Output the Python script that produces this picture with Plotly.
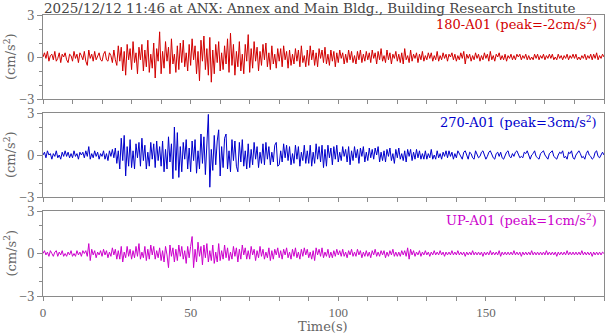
import plotly.graph_objects as go

# ---------------- data (values in 0.1 cm/s^2, sampled every 0.5 s from 0 to 190 s) ----------------
dt = 0.5
title_text = "2025/12/12 11:46 at ANX: Annex and Main Bldg., Building Research Institute"
x_title = "Time(s)"
names = ["180-A01", "270-A01", "UP-A01"]
peaks = ["-2", "3", "1"]
colors = ["#d20000", "#0000cc", "#cc00cc"]
x_ticks = [0, 50, 100, 150]
y_ticks = [-3, 0, 3]

ch180 = [
    0,3,-1,4,-3,1,2,-2,4,-3,-1,3,-4,2,0,3,-2,-4,2,1,
    -3,4,-1,2,-4,3,1,-2,4,-3,-6,5,-1,2,-3,4,-2,1,3,-2,
    -3,2,4,-2,-3,3,1,-4,5,-2,-6,8,-3,7,-10,4,-13,9,-2,6,
    -9,11,-4,3,-12,7,-2,9,-10,5,-7,12,-11,2,-8,10,-15,6,-3,18,
    -12,4,-8,11,-3,7,-12,13,-5,2,-11,8,-9,10,-4,12,-7,3,-10,9,
    -6,13,-2,8,-12,4,-17,12,-3,15,-9,6,-13,14,-18,5,-12,9,-4,11,
    -10,3,-9,8,-5,13,-11,17,-6,9,-13,4,-7,11,-10,2,-12,9,-3,16,
    -11,6,-8,11,-3,7,-10,4,-6,9,-2,10,-7,3,-9,8,-5,2,-8,6,
    -3,6,-7,8,-2,4,-8,5,-6,2,-5,6,-3,5,-7,8,-4,1,-7,5,
    -6,8,-2,5,-6,3,-7,6,-1,5,-4,7,-5,2,-6,5,-3,4,-7,3,
    -4,5,-1,3,-5,2,-4,5,-2,4,-4,1,-5,4,-2,5,-4,2,-3,4,
    -2,3,-4,5,-1,3,-5,4,-2,6,-3,1,-4,5,-2,3,-5,2,-1,4,
    -3,2,-4,3,-5,6,-2,1,-4,5,-3,2,-1,3,-4,2,-2,4,-3,1,
    -2,3,-1,3,-3,1,-2,4,-3,1,-2,3,-1,2,-3,2,0,3,-2,2,
    -3,1,-2,3,-1,4,-5,2,-1,2,-3,1,-2,3,-1,2,-3,1,-2,3,
    -1,2,-3,4,-2,1,-3,2,0,3,-2,1,-2,2,-3,1,-1,2,-2,1,
    -2,2,0,2,-2,1,-1,2,-2,1,-2,0,-2,2,-1,2,-2,1,-1,2,
    -2,1,-1,2,-1,2,-2,0,-2,2,-1,1,-2,1,-1,2,-2,1,-1,2,
    -1,2,-2,0,-2,1,-1,2,-2,1,-1,2,-2,2,-1,3,-2,1,-1,2,
    0,
]

ch270 = [
    0,2,-2,3,0,1,-3,1,-1,3,-2,0,-3,2,-1,3,-1,2,-2,1,
    -2,3,-1,1,-3,2,0,2,-2,3,-1,6,-3,1,-2,3,-1,2,-3,1,
    -1,3,-3,1,-4,3,-1,4,-2,5,-6,3,-10,12,-4,14,-15,6,-8,11,
    -9,3,-10,8,-2,9,-8,12,-4,7,-10,2,-8,9,-3,8,-9,10,-4,6,
    -8,10,-12,4,-10,13,-5,8,-17,20,-11,16,-16,6,-12,9,-3,11,-10,5,
    -12,10,-4,11,-13,3,-10,15,-6,13,-14,8,29,-23,4,-11,14,-7,10,18,
    -15,6,-9,12,15,-10,3,-12,11,-4,10,-8,-12,9,-5,11,-8,3,-10,8,
    -9,4,-7,9,-3,6,-9,2,-6,8,-7,9,-3,6,-7,2,-5,7,9,-8,
    -7,3,-5,8,-2,7,-4,6,-7,1,-6,7,-3,6,-8,2,-4,7,-6,3,
    -6,7,-8,2,-6,8,-3,6,-5,7,-9,4,-8,7,-2,5,-7,6,-3,7,
    -5,2,-4,6,-1,4,-5,6,-7,3,-4,6,-2,4,-6,5,-1,6,-5,2,
    -4,5,-2,4,-3,5,0,6,-5,2,-4,3,-5,4,-1,5,-4,1,-6,4,
    -2,5,-3,1,-4,3,-5,4,-1,4,-4,2,-3,4,-2,3,-3,1,-3,3,
    -3,1,-2,4,-3,0,-3,3,-2,1,-3,2,-1,3,-2,3,-1,2,-3,1,
    -2,3,1,-2,-3,2,3,0,-3,2,1,-2,-3,3,0,-2,-1,2,3,-1,
    -3,-1,2,3,0,-2,-3,1,2,-1,2,-2,-3,0,2,3,-1,-2,1,-1,
    2,3,0,-2,-1,-2,2,1,3,-1,-3,0,1,3,-1,-2,-3,1,2,3,
    0,-2,-3,1,2,3,-1,-2,-3,0,2,1,3,-2,-1,-3,2,1,3,-2,
    -3,0,2,3,1,-2,-1,-3,1,3,0,-1,-3,-2,2,3,-1,-2,0,2,
    0,
]

chup = [
    0,2,-1,1,-2,2,0,-2,1,2,-2,1,-1,2,-2,0,-2,1,-1,2,
    -2,0,-2,2,-1,1,-2,2,0,2,-2,7,-5,3,-1,2,-3,1,-1,2,
    -2,3,-1,2,-3,1,-2,4,-1,3,-4,2,-4,5,-6,1,-3,5,-2,3,
    -4,2,-3,5,-2,7,-4,1,-3,5,-5,3,-4,6,-1,5,-4,2,-3,4,
    -5,2,-6,5,-1,-10,6,-2,4,-6,3,-5,6,-2,5,-4,2,-7,5,-3,
    5,12,-10,3,-6,8,-2,5,-8,6,-3,7,-6,2,-5,6,-7,1,-6,7,
    -5,2,-4,6,-3,4,-5,1,-4,5,-2,4,-6,3,-4,6,-1,4,-4,2,
    -4,5,-1,3,-5,2,-3,5,-2,3,-4,1,-3,4,-5,2,-4,3,-1,4,
    -3,2,-4,3,-1,4,-3,1,-4,3,-2,4,-3,1,-4,3,-2,4,-1,3,
    -3,1,-4,2,-5,4,-1,3,-2,4,-3,1,-2,3,-3,1,-3,2,-2,3,
    -1,2,-2,3,-2,1,-3,2,-1,3,-2,1,-2,3,-1,2,-3,1,-2,2,
    -2,1,-3,2,-1,3,-2,1,-2,2,-1,2,-3,1,-2,2,-1,3,-2,1,
    -2,1,-2,2,-1,2,-2,4,-4,3,-1,2,-2,1,-1,2,-2,1,-1,2,
    -1,1,-2,1,-1,2,-1,1,-1,2,-1,1,-2,1,-1,1,-1,2,-1,1,
    -1,2,-1,1,-1,1,-2,1,-1,1,-1,2,-1,1,-1,1,-1,1,-2,1,
    -1,1,-1,2,-1,1,-1,1,-1,2,-2,1,-1,1,-1,1,-1,1,-1,2,
    -1,1,-1,1,-2,1,-1,1,-1,1,-1,2,-1,1,-1,1,-1,1,-1,1,
    -1,2,-1,1,-1,1,-1,1,-2,1,-1,1,-1,1,-1,2,-1,1,-1,1,
    -1,1,-1,1,-1,2,-1,1,-1,1,-1,1,-2,1,-1,1,-1,1,-1,1,
    0,
]

series = [ch180, ch270, chup]

# ---------------- layout geometry ----------------
W, H = 605, 334
ML, MR, MT, MB = 43, 1, 15, 38
PH = H - MT - MB
panels_px = [(15, 99), (113, 197), (211, 296)]  # top, bottom pixel of each panel

def py(p):
    return (H - MB - p) / PH

def px(p):
    return (p - ML) / (W - ML - MR)

FONT = "DejaVu Serif"
TICKFONT = "Liberation Serif"
AX = "#8a8a8a"
TXT = "#666666"

fig = go.Figure()
for i, (vals, col) in enumerate(zip(series, colors)):
    t = [k * dt for k in range(len(vals))]
    y = [v / 10 for v in vals]
    sfx = "" if i == 0 else str(i + 1)
    fig.add_trace(go.Scatter(x=t, y=y, mode="lines", line=dict(color=col, width=1),
                             xaxis="x" + sfx, yaxis="y" + sfx, showlegend=False,
                             hoverinfo="skip"))
    top, bot = panels_px[i]
    xa = dict(domain=[0, 1], range=[0, 190], anchor="y" + sfx, showline=True, mirror=True,
              linecolor=AX, linewidth=1, ticks="outside", ticklen=4, tickcolor=AX,
              tickvals=x_ticks, showgrid=False, zeroline=False,
              minor=dict(dtick=10, ticks="outside", ticklen=4, tickcolor=AX, showgrid=False),
              showticklabels=(i == 2), tickfont=dict(family=TICKFONT, size=13, color=TXT))
    if i != 2:
        xa["matches"] = "x3"
    ya = dict(domain=[py(bot), py(top)], range=[-3, 3], anchor="x" + sfx, showline=True,
              mirror=True, linecolor=AX, linewidth=1, ticks="outside", ticklen=5,
              tickcolor=AX, tickvals=y_ticks, showgrid=False, zeroline=False,
              minor=dict(dtick=1, ticks="outside", ticklen=3, tickcolor=AX, showgrid=False),
              tickfont=dict(family=TICKFONT, size=14, color=TXT))
    fig.update_layout({"xaxis" + sfx: xa, "yaxis" + sfx: ya})
    # y-axis title
    fig.add_annotation(text="(cm/s<sup>2</sup>)", textangle=-90, xref="paper", yref="paper",
                       x=px(10), y=py((top + bot) / 2), xanchor="center",
                       yanchor="middle", showarrow=False,
                       font=dict(family=FONT, size=13, color=TXT))
    # channel label
    fig.add_annotation(text=f"{names[i]} (peak={peaks[i]}cm/s<sup>2</sup>)", xref="paper",
                       yref="paper", x=px(599), y=py(top + 9),
                       xanchor="right", yanchor="middle", showarrow=False,
                       font=dict(family=FONT, size=13, color=col))

# x-axis title
fig.add_annotation(text=x_title, xref="paper", yref="paper", x=px(323), y=py(326.5),
                   xanchor="center", yanchor="middle", showarrow=False,
                   font=dict(family=FONT, size=13, color=TXT))

fig.add_annotation(text=title_text, xref="paper", yref="paper", x=px(42),
                   y=py(8), xanchor="left", yanchor="middle", showarrow=False,
                   font=dict(family=FONT, size=13.5, color="#444444"))

fig.update_layout(width=W, height=H, margin=dict(l=ML, r=MR, t=MT, b=MB),
                  paper_bgcolor="white", plot_bgcolor="white")
fig.write_html("out.html")
